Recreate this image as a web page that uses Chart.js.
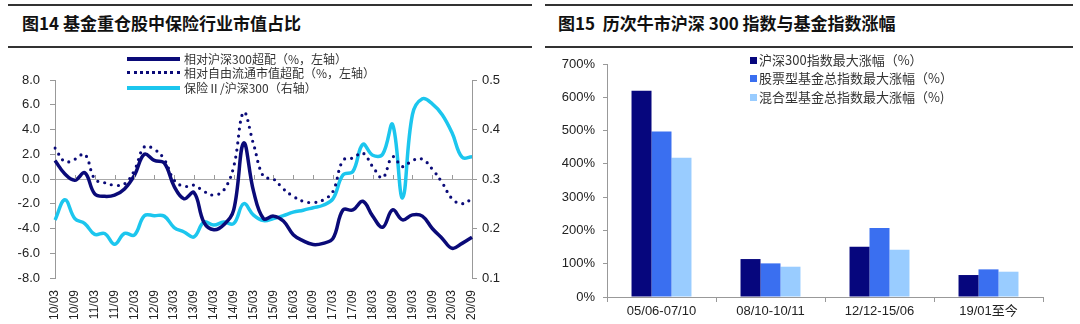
<!DOCTYPE html>
<html>
<head>
<meta charset="utf-8">
<script src="https://cdn.jsdelivr.net/npm/chart.js@4"></script>
<style>
  body { margin: 0; width: 1080px; height: 324px; background: #fff; position: relative; overflow: hidden;
         font-family: "Liberation Sans", "Noto Sans CJK SC", sans-serif; color: #222; }
  .rule { position: absolute; height: 2px; background: #333; }
  .title { position: absolute; top: 10px; font-family: "Noto Sans CJK SC"; font-weight: bold; font-size: 17px; color: #111; white-space: pre; }
  .wrap { position: absolute; top: 45px; width: 540px; height: 279px; }
  .leg { position: absolute; font-family: "Noto Sans CJK SC"; font-size: 12px; color: #333; white-space: pre; line-height: 14px; }
  .sw { position: absolute; }
</style>
</head>
<body>
<div class="rule" style="left:8px; width:524px; top:4px"></div>
<div class="rule" style="left:8px; width:524px; top:46px"></div>
<div class="rule" style="left:545px; width:528px; top:4px"></div>
<div class="rule" style="left:545px; width:528px; top:46px"></div>
<div class="title" style="left:22px">图14 基金重仓股中保险行业市值占比</div>
<div class="title" style="left:558px">图15  历次牛市沪深 300 指数与基金指数涨幅</div>

<div class="wrap" style="left:0"><canvas id="left" width="540" height="279"></canvas></div>
<div class="wrap" style="left:540px"><canvas id="right" width="540" height="279"></canvas></div>

<!-- legend, left chart -->
<div class="sw" style="left:127px; top:57px; width:53px; height:4px; background:#0a0a78"></div>
<div class="sw" style="left:127px; top:71px; width:53px; height:0; border-top:3px dotted #0a0a78"></div>
<div class="sw" style="left:127px; top:86px; width:53px; height:4px; background:#1cc6ee"></div>
<div class="leg" style="left:184px; top:52px">相对沪深300超配（%，左轴）</div>
<div class="leg" style="left:184px; top:66px">相对自由流通市值超配（%，左轴）</div>
<div class="leg" style="left:184px; top:81px">保险Ⅱ/沪深300（右轴）</div>

<!-- legend, right chart -->
<div class="sw" style="left:750px; top:57px; width:7px; height:7px; background:#06067d"></div>
<div class="sw" style="left:750px; top:75px; width:7px; height:7px; background:#3a6ff0"></div>
<div class="sw" style="left:750px; top:94px; width:7px; height:7px; background:#99ccff"></div>
<div class="leg" style="left:759px; top:53px; font-size:13px">沪深300指数最大涨幅（%）</div>
<div class="leg" style="left:759px; top:71px; font-size:13px">股票型基金总指数最大涨幅（%）</div>
<div class="leg" style="left:759px; top:90px; font-size:13px">混合型基金总指数最大涨幅（%)</div>

<script>
// quarterly points, 10/03 .. 20/09
const quarters = ['10/03','10/06','10/09','10/12','11/03','11/06','11/09','11/12','12/03','12/06','12/09','12/12',
  '13/03','13/06','13/09','13/12','14/03','14/06','14/09','14/12','15/03','15/06','15/09','15/12',
  '16/03','16/06','16/09','16/12','17/03','17/06','17/09','17/12','18/03','18/06','18/09','18/12',
  '19/03','19/06','19/09','19/12','20/03','20/06','20/09'];

const vsHs300 = [1.5, 0.4, -0.1, 0.5, -1.2, -1.4, -1.3, -0.8, 0.3, 2.0, 1.5, 1.3,
  -0.6, -1.6, -1.1, -3.5, -4.1, -3.7, -2.5, 2.9, -1.0, -3.2, -3.0, -3.4,
  -4.5, -5.0, -5.3, -5.2, -4.8, -2.5, -2.5, -1.8, -3.0, -3.9, -2.5, -3.3,
  -2.9, -3.0, -4.0, -4.8, -5.6, -5.2, -4.7];

const vsFreeFloat = [2.5, 1.4, 1.6, 2.0, 0.0, -0.3, -0.5, -0.4, 0.7, 2.6, 2.4, 1.6,
  -0.1, -0.6, -0.5, -1.0, -1.3, -0.9, 1.0, 5.4, 2.8, 0.2, 0.0, -0.8,
  -1.4, -1.8, -1.9, -1.7, -1.0, 1.5, 1.7, 2.1, 1.0, 0.1, 1.8, 1.0,
  1.5, 1.6, 0.8, -0.3, -1.6, -2.0, -1.6];

const insOverHs300 = [0.217, 0.258, 0.220, 0.210, 0.188, 0.190, 0.168, 0.190, 0.187, 0.226, 0.226, 0.225,
  0.202, 0.193, 0.183, 0.213, 0.207, 0.213, 0.210, 0.250, 0.227, 0.216, 0.220, 0.226,
  0.233, 0.237, 0.242, 0.247, 0.260, 0.308, 0.315, 0.370, 0.348, 0.350, 0.410, 0.262,
  0.430, 0.462, 0.452, 0.430, 0.393, 0.344, 0.345];

// bull markets
const periods = ['05/06-07/10', '08/10-10/11', '12/12-15/06', '19/01至今'];
const hs300Gain = [620, 114, 151, 66];
const stockFundGain = [497, 101, 207, 83];
const mixedFundGain = [418, 91, 142, 76];

const tickFont = { family: 'Liberation Sans', size: 13 };

// small ticks on the zero line, only at labelled months
const zeroTicks = {
  id: 'zeroTicks',
  afterDatasetsDraw(chart) {
    const ctx = chart.ctx;
    const x = chart.scales.x, y0 = chart.scales.y.getPixelForValue(0);
    ctx.save();
    ctx.strokeStyle = '#999';
    ctx.lineWidth = 1;
    quarters.forEach((q, i) => {
      if (i % 2) return;
      const px = Math.round(x.getPixelForValue(i)) + 0.5;
      ctx.beginPath();
      ctx.moveTo(px, y0 - 4);
      ctx.lineTo(px, y0);
      ctx.stroke();
    });
    ctx.restore();
  }
};

new Chart(document.getElementById('left'), {
  type: 'line',
  data: {
    labels: quarters,
    datasets: [
      { data: vsHs300, yAxisID: 'y', borderColor: '#0a0a78', borderWidth: 3.5, tension: 0.4, pointRadius: 0 },
      { data: vsFreeFloat, yAxisID: 'y', borderColor: '#0a0a78', borderWidth: 3.2, borderDash: [0, 7],
        borderCapStyle: 'round', tension: 0.4, pointRadius: 0 },
      { data: insOverHs300, yAxisID: 'y1', borderColor: '#1cc6ee', borderWidth: 3.5, tension: 0.4, pointRadius: 0 }
    ]
  },
  options: {
    responsive: false,
    animation: false,
    layout: { padding: { top: 35, left: 0, right: 0, bottom: 0 } },
    plugins: { legend: { display: false }, tooltip: { enabled: false } },
    scales: {
      x: {
        grid: { display: false },
        border: { display: false },
        afterFit: s => { s.height = 46; },
        ticks: {
          autoSkip: false, maxRotation: 90, minRotation: 90, padding: 4,
          font: { family: 'Liberation Sans', size: 12 }, color: '#222',
          callback: (v, i) => (i % 2 ? '' : quarters[i])
        }
      },
      y: {
        min: -8, max: 8,
        afterFit: s => { s.width = 55; },
        border: { color: '#999' },
        grid: { color: c => (c.tick.value === 0 ? '#aaa' : 'rgba(0,0,0,0)'), tickColor: '#999', tickLength: 5 },
        ticks: { stepSize: 2, padding: 10, font: tickFont, color: '#222', callback: v => v.toFixed(1) }
      },
      y1: {
        position: 'right', min: 0.1, max: 0.5,
        afterFit: s => { s.width = 68; },
        border: { color: '#999' },
        grid: { drawOnChartArea: false, tickColor: '#999', tickLength: 5 },
        ticks: { stepSize: 0.1, padding: 5, font: tickFont, color: '#222', callback: v => v.toFixed(1) }
      }
    }
  },
  plugins: [zeroTicks]
});

new Chart(document.getElementById('right'), {
  type: 'bar',
  data: {
    labels: periods,
    datasets: [
      { data: hs300Gain, backgroundColor: '#06067d' },
      { data: stockFundGain, backgroundColor: '#3a6ff0' },
      { data: mixedFundGain, backgroundColor: '#99ccff' }
    ]
  },
  options: {
    responsive: false,
    animation: false,
    layout: { padding: { top: 19, left: 0, right: 37, bottom: 0 } },
    plugins: { legend: { display: false }, tooltip: { enabled: false } },
    datasets: { bar: { categoryPercentage: 0.55, barPercentage: 1 } },
    scales: {
      x: {
        afterFit: s => { s.height = 27; },
        border: { color: '#999' },
        grid: { drawOnChartArea: false, tickColor: '#999', tickLength: 5 },
        ticks: { padding: 2, font: { family: "'Liberation Sans', 'Noto Sans CJK SC'", size: 13 }, color: '#222' }
      },
      y: {
        min: 0, max: 700,
        afterFit: s => { s.width = 67; },
        border: { color: '#999' },
        grid: { drawOnChartArea: false, tickColor: '#999', tickLength: 4 },
        ticks: { stepSize: 100, padding: 8, font: tickFont, color: '#222', callback: v => v + '%' }
      }
    }
  }
});
</script>
</body>
</html>
